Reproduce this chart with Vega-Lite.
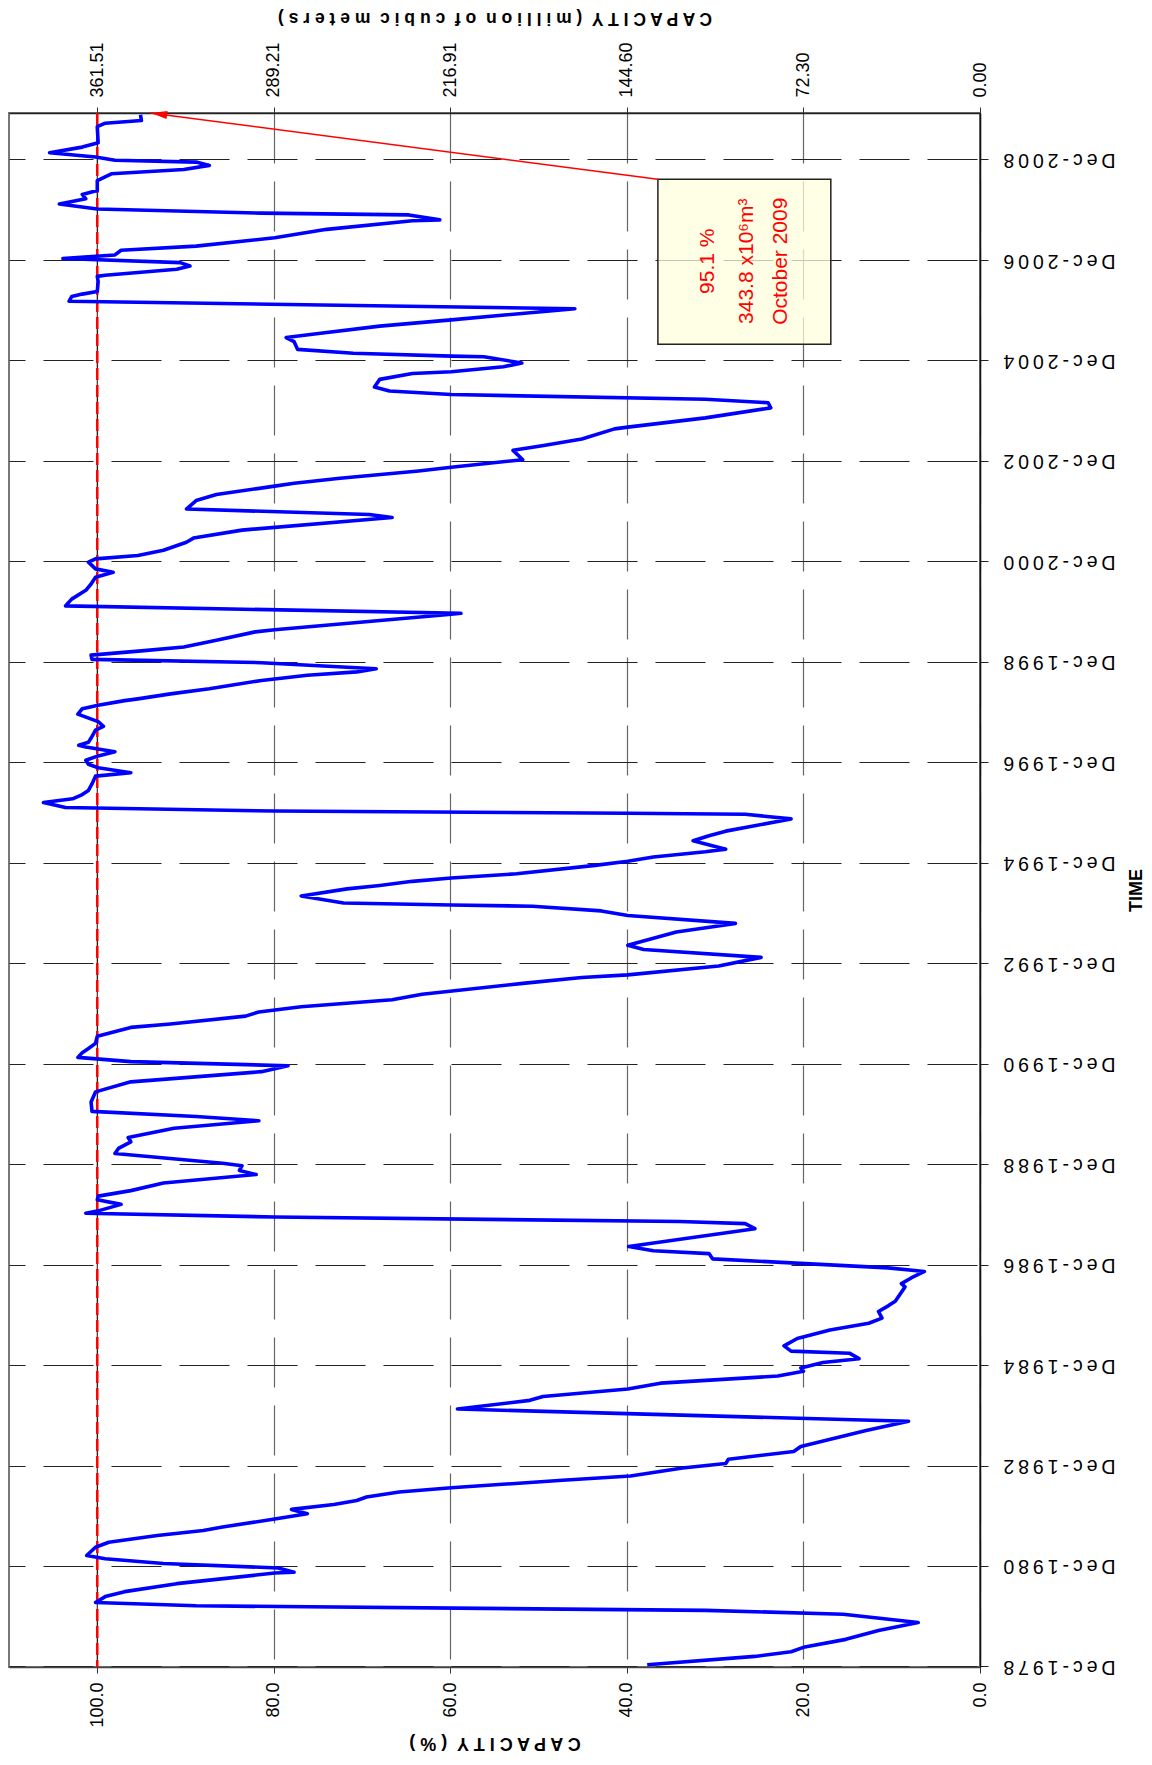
{
  "$schema": "https://vega.github.io/schema/vega-lite/v6.json",
  "width": 971,
  "height": 1554,
  "autosize": {"type": "none"},
  "padding": {"left": 9, "top": 113, "right": 172, "bottom": 98},
  "background": "white",
  "config": {
    "view": {"stroke": "#777", "strokeWidth": 2},
    "font": "Liberation Sans",
    "axis": {"labelFont": "Liberation Sans", "titleFont": "Liberation Sans", "labelColor": "black", "titleColor": "black", "labelFontSize": 18}
  },
  "datasets": {
    "series": [
      {"date": "1978-12-13", "pct": 37.7}, {"date": "1979-02-12", "pct": 25.5}, {"date": "1979-03-18", "pct": 21.4},
      {"date": "1979-04-19", "pct": 20.0}, {"date": "1979-06-16", "pct": 15.2}, {"date": "1979-08-19", "pct": 11.5},
      {"date": "1979-10-16", "pct": 7.0}, {"date": "1979-12-16", "pct": 15.5}, {"date": "1980-01-13", "pct": 31.1},
      {"date": "1980-02-15", "pct": 88.8}, {"date": "1980-03-10", "pct": 100.2}, {"date": "1980-04-22", "pct": 99.1},
      {"date": "1980-05-28", "pct": 96.9}, {"date": "1980-07-25", "pct": 91.0}, {"date": "1980-10-10", "pct": 79.9},
      {"date": "1980-10-16", "pct": 77.7}, {"date": "1980-11-16", "pct": 79.5}, {"date": "1980-12-19", "pct": 92.5},
      {"date": "1981-01-22", "pct": 99.1}, {"date": "1981-02-15", "pct": 101.2}, {"date": "1981-04-16", "pct": 100.2},
      {"date": "1981-05-22", "pct": 98.7}, {"date": "1981-07-10", "pct": 93.2}, {"date": "1981-08-16", "pct": 88.0},
      {"date": "1981-09-10", "pct": 85.8}, {"date": "1981-11-07", "pct": 79.9}, {"date": "1981-12-16", "pct": 76.2},
      {"date": "1982-01-16", "pct": 78.0}, {"date": "1982-02-21", "pct": 73.2}, {"date": "1982-03-22", "pct": 70.6},
      {"date": "1982-04-16", "pct": 69.5}, {"date": "1982-05-22", "pct": 65.8}, {"date": "1982-06-22", "pct": 59.9},
      {"date": "1982-08-16", "pct": 47.3}, {"date": "1982-09-16", "pct": 39.6}, {"date": "1982-11-13", "pct": 33.7},
      {"date": "1982-12-16", "pct": 28.8}, {"date": "1983-01-16", "pct": 28.5}, {"date": "1983-03-13", "pct": 21.1},
      {"date": "1983-04-19", "pct": 20.3}, {"date": "1983-08-12", "pct": 12.9}, {"date": "1983-10-19", "pct": 8.1},
      {"date": "1984-01-16", "pct": 59.2}, {"date": "1984-03-19", "pct": 51.0}, {"date": "1984-04-16", "pct": 49.5},
      {"date": "1984-06-10", "pct": 39.9}, {"date": "1984-07-22", "pct": 36.2}, {"date": "1984-09-12", "pct": 22.9},
      {"date": "1984-10-16", "pct": 20.0}, {"date": "1984-11-10", "pct": 20.3}, {"date": "1984-12-19", "pct": 17.8},
      {"date": "1985-01-16", "pct": 13.7}, {"date": "1985-02-25", "pct": 14.8}, {"date": "1985-03-12", "pct": 21.4},
      {"date": "1985-04-19", "pct": 22.2}, {"date": "1985-06-12", "pct": 20.7}, {"date": "1985-08-12", "pct": 17.0},
      {"date": "1985-10-01", "pct": 12.6}, {"date": "1985-11-07", "pct": 11.1}, {"date": "1985-12-25", "pct": 11.5},
      {"date": "1986-02-04", "pct": 10.4}, {"date": "1986-03-10", "pct": 9.6}, {"date": "1986-06-22", "pct": 8.5},
      {"date": "1986-07-16", "pct": 8.9}, {"date": "1986-08-26", "pct": 7.8}, {"date": "1986-10-12", "pct": 6.3},
      {"date": "1986-11-07", "pct": 10.4}, {"date": "1987-01-12", "pct": 30.3}, {"date": "1987-02-19", "pct": 30.7},
      {"date": "1987-03-12", "pct": 37.0}, {"date": "1987-04-12", "pct": 39.8}, {"date": "1987-08-19", "pct": 25.5},
      {"date": "1987-09-25", "pct": 26.6}, {"date": "1987-10-10", "pct": 34.0}, {"date": "1987-11-12", "pct": 79.9},
      {"date": "1987-12-10", "pct": 101.3}, {"date": "1987-12-25", "pct": 100.0}, {"date": "1988-02-12", "pct": 97.3},
      {"date": "1988-03-16", "pct": 100.0}, {"date": "1988-04-12", "pct": 99.9}, {"date": "1988-05-22", "pct": 96.2},
      {"date": "1988-07-16", "pct": 92.5}, {"date": "1988-09-16", "pct": 82.0}, {"date": "1988-10-16", "pct": 83.9},
      {"date": "1988-11-19", "pct": 83.6}, {"date": "1988-12-07", "pct": 85.8}, {"date": "1989-02-16", "pct": 98.0},
      {"date": "1989-03-25", "pct": 97.6}, {"date": "1989-05-12", "pct": 96.2}, {"date": "1989-06-12", "pct": 96.5},
      {"date": "1989-08-19", "pct": 91.3}, {"date": "1989-10-12", "pct": 81.7}, {"date": "1989-11-12", "pct": 88.8},
      {"date": "1989-12-19", "pct": 100.6}, {"date": "1990-02-25", "pct": 100.7}, {"date": "1990-05-10", "pct": 100.2},
      {"date": "1990-07-22", "pct": 96.2}, {"date": "1990-10-04", "pct": 81.4}, {"date": "1990-11-16", "pct": 78.4},
      {"date": "1990-12-16", "pct": 96.2}, {"date": "1991-01-16", "pct": 102.2}, {"date": "1991-02-19", "pct": 101.7},
      {"date": "1991-03-22", "pct": 101.0}, {"date": "1991-04-28", "pct": 100.2}, {"date": "1991-06-19", "pct": 100.0},
      {"date": "1991-08-22", "pct": 96.2}, {"date": "1991-09-16", "pct": 91.7}, {"date": "1991-11-12", "pct": 83.2},
      {"date": "1991-12-12", "pct": 81.7}, {"date": "1992-01-19", "pct": 76.9}, {"date": "1992-03-10", "pct": 66.6},
      {"date": "1992-04-19", "pct": 63.2}, {"date": "1992-07-07", "pct": 51.8}, {"date": "1992-08-19", "pct": 45.1},
      {"date": "1992-09-07", "pct": 39.9}, {"date": "1992-11-10", "pct": 29.6}, {"date": "1993-01-12", "pct": 24.8},
      {"date": "1993-03-10", "pct": 38.1}, {"date": "1993-04-10", "pct": 39.9}, {"date": "1993-07-16", "pct": 34.4},
      {"date": "1993-09-16", "pct": 27.7}, {"date": "1993-11-12", "pct": 39.9}, {"date": "1993-12-16", "pct": 42.9},
      {"date": "1994-01-19", "pct": 50.7}, {"date": "1994-01-28", "pct": 59.9}, {"date": "1994-02-12", "pct": 72.1},
      {"date": "1994-04-04", "pct": 76.9}, {"date": "1994-05-25", "pct": 71.7}, {"date": "1994-06-19", "pct": 68.0},
      {"date": "1994-07-19", "pct": 64.3}, {"date": "1994-08-12", "pct": 59.9}, {"date": "1994-09-12", "pct": 52.5},
      {"date": "1994-11-12", "pct": 43.6}, {"date": "1994-12-12", "pct": 39.9}, {"date": "1995-01-12", "pct": 37.0},
      {"date": "1995-02-19", "pct": 31.1}, {"date": "1995-03-10", "pct": 28.8}, {"date": "1995-05-10", "pct": 32.5},
      {"date": "1995-06-16", "pct": 30.7}, {"date": "1995-07-19", "pct": 28.8}, {"date": "1995-10-16", "pct": 21.4},
      {"date": "1995-11-19", "pct": 26.6}, {"date": "1995-11-26", "pct": 39.9}, {"date": "1995-12-12", "pct": 79.9},
      {"date": "1996-01-07", "pct": 103.6}, {"date": "1996-02-12", "pct": 106.1}, {"date": "1996-03-10", "pct": 102.8},
      {"date": "1996-04-10", "pct": 101.7}, {"date": "1996-05-10", "pct": 101.0}, {"date": "1996-06-26", "pct": 100.6},
      {"date": "1996-08-22", "pct": 100.2}, {"date": "1996-09-16", "pct": 96.2}, {"date": "1996-10-22", "pct": 99.9},
      {"date": "1996-11-16", "pct": 101.0}, {"date": "1996-12-16", "pct": 101.3}, {"date": "1997-01-16", "pct": 99.9},
      {"date": "1997-02-16", "pct": 98.0}, {"date": "1997-03-22", "pct": 101.3}, {"date": "1997-04-04", "pct": 102.1},
      {"date": "1997-04-26", "pct": 101.0}, {"date": "1997-05-26", "pct": 100.7}, {"date": "1997-07-22", "pct": 100.2},
      {"date": "1997-08-19", "pct": 99.3}, {"date": "1997-09-22", "pct": 99.9}, {"date": "1997-11-16", "pct": 102.2},
      {"date": "1997-12-25", "pct": 101.7}, {"date": "1998-01-19", "pct": 99.9}, {"date": "1998-02-22", "pct": 96.9},
      {"date": "1998-03-07", "pct": 95.4}, {"date": "1998-04-12", "pct": 91.7}, {"date": "1998-05-19", "pct": 87.3},
      {"date": "1998-07-19", "pct": 81.4}, {"date": "1998-08-25", "pct": 76.2}, {"date": "1998-09-19", "pct": 70.6},
      {"date": "1998-10-12", "pct": 68.4}, {"date": "1998-11-25", "pct": 81.4}, {"date": "1998-12-19", "pct": 100.6},
      {"date": "1999-01-19", "pct": 100.7}, {"date": "1999-02-19", "pct": 95.0}, {"date": "1999-03-19", "pct": 90.2},
      {"date": "1999-05-07", "pct": 86.5}, {"date": "1999-07-07", "pct": 82.1}, {"date": "1999-07-22", "pct": 79.9},
      {"date": "1999-11-12", "pct": 59.9}, {"date": "1999-11-19", "pct": 58.8}, {"date": "2000-01-12", "pct": 103.6},
      {"date": "2000-03-01", "pct": 102.9}, {"date": "2000-05-04", "pct": 101.3}, {"date": "2000-06-19", "pct": 100.7},
      {"date": "2000-08-07", "pct": 100.2}, {"date": "2000-09-12", "pct": 98.2}, {"date": "2000-10-07", "pct": 100.2},
      {"date": "2000-11-25", "pct": 101.0}, {"date": "2000-12-19", "pct": 100.2}, {"date": "2001-01-12", "pct": 95.4},
      {"date": "2001-02-19", "pct": 92.5}, {"date": "2001-04-19", "pct": 89.9}, {"date": "2001-05-19", "pct": 89.1},
      {"date": "2001-07-16", "pct": 83.6}, {"date": "2001-10-16", "pct": 66.6}, {"date": "2001-11-07", "pct": 69.2},
      {"date": "2001-12-16", "pct": 89.9}, {"date": "2002-02-16", "pct": 88.8}, {"date": "2002-04-01", "pct": 86.5},
      {"date": "2002-06-01", "pct": 79.9}, {"date": "2002-06-22", "pct": 77.7}, {"date": "2002-07-28", "pct": 72.5},
      {"date": "2002-09-19", "pct": 63.6}, {"date": "2002-10-16", "pct": 59.9}, {"date": "2002-12-10", "pct": 51.8},
      {"date": "2003-02-16", "pct": 52.9}, {"date": "2003-03-22", "pct": 49.6}, {"date": "2003-05-10", "pct": 45.1},
      {"date": "2003-07-22", "pct": 41.4}, {"date": "2003-08-04", "pct": 39.9}, {"date": "2003-10-10", "pct": 31.1},
      {"date": "2003-12-22", "pct": 23.7}, {"date": "2004-01-28", "pct": 24.0}, {"date": "2004-02-22", "pct": 31.1},
      {"date": "2004-03-28", "pct": 59.9}, {"date": "2004-04-22", "pct": 66.9}, {"date": "2004-05-22", "pct": 68.6},
      {"date": "2004-07-16", "pct": 68.0}, {"date": "2004-08-28", "pct": 64.3}, {"date": "2004-09-10", "pct": 59.9},
      {"date": "2004-10-16", "pct": 54.0}, {"date": "2004-11-12", "pct": 51.9}, {"date": "2004-12-28", "pct": 56.2},
      {"date": "2005-01-01", "pct": 59.9}, {"date": "2005-01-22", "pct": 71.0}, {"date": "2005-02-19", "pct": 77.3},
      {"date": "2005-04-16", "pct": 77.7}, {"date": "2005-05-16", "pct": 78.6}, {"date": "2005-06-16", "pct": 74.7},
      {"date": "2005-08-07", "pct": 68.0}, {"date": "2005-09-22", "pct": 59.9}, {"date": "2005-12-12", "pct": 45.9},
      {"date": "2006-02-04", "pct": 103.2}, {"date": "2006-03-10", "pct": 102.9}, {"date": "2006-03-28", "pct": 101.7},
      {"date": "2006-04-16", "pct": 100.0}, {"date": "2006-06-28", "pct": 99.9}, {"date": "2006-08-04", "pct": 100.0},
      {"date": "2006-08-12", "pct": 99.1}, {"date": "2006-09-25", "pct": 91.0}, {"date": "2006-10-19", "pct": 89.5},
      {"date": "2006-11-12", "pct": 90.6}, {"date": "2006-12-12", "pct": 103.9}, {"date": "2007-01-07", "pct": 98.0},
      {"date": "2007-02-10", "pct": 97.3}, {"date": "2007-03-12", "pct": 88.8}, {"date": "2007-05-12", "pct": 79.9},
      {"date": "2007-07-12", "pct": 74.0}, {"date": "2007-09-12", "pct": 64.3}, {"date": "2007-09-19", "pct": 61.2},
      {"date": "2007-10-25", "pct": 64.7}, {"date": "2007-11-07", "pct": 81.4}, {"date": "2007-12-07", "pct": 100.0},
      {"date": "2008-01-12", "pct": 104.3}, {"date": "2008-02-19", "pct": 101.3}, {"date": "2008-03-22", "pct": 101.7},
      {"date": "2008-04-19", "pct": 100.0}, {"date": "2008-07-01", "pct": 100.0}, {"date": "2008-08-19", "pct": 98.4},
      {"date": "2008-09-19", "pct": 90.2}, {"date": "2008-10-19", "pct": 87.3}, {"date": "2008-11-12", "pct": 88.8},
      {"date": "2008-11-25", "pct": 98.0}, {"date": "2008-12-19", "pct": 100.2}, {"date": "2009-01-19", "pct": 105.4},
      {"date": "2009-03-01", "pct": 101.7}, {"date": "2009-04-01", "pct": 99.9}, {"date": "2009-07-28", "pct": 100.0},
      {"date": "2009-08-22", "pct": 99.1}, {"date": "2009-09-10", "pct": 95.0}, {"date": "2009-10-22", "pct": 95.1}
    ],
    "ref": [{"pct": 100}],
    "box": [{"pct": 36.49, "pct2": 16.9, "date": "2008-07-10", "date2": "2005-03-28"}],
    "arrow": [{"pct": 36.49, "pct2": 94.0, "date": "2008-07-10", "date2": "2009-11-04"}],
    "head": [{"pct": 93.0, "date": "2009-10-28"}],
    "notes": [
      {"pct": 30.85, "date": "2006-11-22", "label": "95.1 %"},
      {"pct": 26.4, "date": "2006-11-22", "label": "343.8 x10⁶m³"},
      {"pct": 22.55, "date": "2006-11-22", "label": "October 2009"}
    ]
  },
  "resolve": {"axis": {"x": "independent"}},
  "layer": [
    {
      "data": {"name": "box"},
      "mark": {"type": "rect", "fill": "#ffffdc", "fillOpacity": 0.75, "stroke": "#222", "strokeWidth": 1.5},
      "encoding": {
        "x": {"field": "pct", "type": "quantitative", "scale": {"domain": [0, 110], "reverse": true, "nice": false, "zero": false}, "axis": null},
        "x2": {"field": "pct2"},
        "y": {"field": "date", "type": "temporal", "scale": {"type": "utc", "domain": [{"year": 1978, "month": 11, "date": 27, "utc": true}, {"year": 2009, "month": 11, "date": 4, "utc": true}], "nice": false}},
        "y2": {"field": "date2"}
      }
    },
    {
      "data": {"name": "ref"},
      "mark": {"type": "rule", "color": "#111", "strokeWidth": 1},
      "encoding": {
        "x": {
          "field": "pct", "type": "quantitative",
          "scale": {"domain": [0, 110], "reverse": true, "nice": false, "zero": false},
          "axis": {
            "orient": "top", "values": [0, 20, 40, 60, 80, 100],
            "labelExpr": "format(datum.value * 3.6151, '.2f')",
            "grid": false, "ticks": true, "tickSize": 6, "tickColor": "#333",
            "domain": true, "domainColor": "#222", "domainWidth": 1.5,
            "labelAngle": 270, "labelAlign": "left", "labelBaseline": "middle", "labelPadding": 10,
            "labelFontSize": 18, "labelLimit": 400,
            "title": "C A P A C I T Y \u00a0( m i l l i o n \u00a0o f \u00a0c u b i c \u00a0m e t e r s )",
            "titleFontSize": 17.5, "titleFontWeight": "bold", "titleAngle": 180,
            "titleAlign": "center", "titleBaseline": "middle", "titleX": 485.5, "titleY": -95.5
          }
        }
      }
    },
    {
      "data": {"name": "ref"},
      "mark": {"type": "rule", "color": "#ff0000", "strokeDash": [12, 5], "strokeWidth": 2.5},
      "encoding": {
        "x": {"field": "pct", "type": "quantitative", "scale": {"domain": [0, 110], "reverse": true, "nice": false, "zero": false}, "axis": null}
      }
    },
    {
      "data": {"name": "series"},
      "mark": {"type": "line", "color": "#0000ff", "strokeWidth": 3.6, "strokeJoin": "round"},
      "encoding": {
        "x": {
          "field": "pct", "type": "quantitative",
          "scale": {"domain": [0, 110], "reverse": true, "nice": false, "zero": false},
          "axis": {
            "orient": "bottom", "values": [0, 20, 40, 60, 80, 100], "format": ".1f",
            "grid": true, "gridColor": "#666", "gridDash": [50, 18], "gridWidth": 1.2,
            "ticks": true, "tickSize": 6, "tickColor": "#333",
            "domain": true, "domainColor": "#444", "domainWidth": 1.5,
            "labelAngle": 270, "labelAlign": "right", "labelBaseline": "middle", "labelPadding": 9,
            "labelFontSize": 18, "labelLimit": 400,
            "title": "C A P A C I T Y \u00a0( % )",
            "titleFontSize": 18, "titleFontWeight": "bold", "titleAngle": 180,
            "titleAlign": "center", "titleBaseline": "middle", "titleX": 485.5, "titleY": 75
          }
        },
        "y": {
          "field": "date", "type": "temporal",
          "scale": {"type": "utc", "domain": [{"year": 1978, "month": 11, "date": 27, "utc": true}, {"year": 2009, "month": 11, "date": 4, "utc": true}], "nice": false},
          "axis": {
            "orient": "right",
            "values": [
              {"year": 1978, "month": 12, "date": 1, "utc": true}, {"year": 1980, "month": 12, "date": 1, "utc": true},
              {"year": 1982, "month": 12, "date": 1, "utc": true}, {"year": 1984, "month": 12, "date": 1, "utc": true},
              {"year": 1986, "month": 12, "date": 1, "utc": true}, {"year": 1988, "month": 12, "date": 1, "utc": true},
              {"year": 1990, "month": 12, "date": 1, "utc": true}, {"year": 1992, "month": 12, "date": 1, "utc": true},
              {"year": 1994, "month": 12, "date": 1, "utc": true}, {"year": 1996, "month": 12, "date": 1, "utc": true},
              {"year": 1998, "month": 12, "date": 1, "utc": true}, {"year": 2000, "month": 12, "date": 1, "utc": true},
              {"year": 2002, "month": 12, "date": 1, "utc": true}, {"year": 2004, "month": 12, "date": 1, "utc": true},
              {"year": 2006, "month": 12, "date": 1, "utc": true}, {"year": 2008, "month": 12, "date": 1, "utc": true}
            ],
            "format": "%b-%Y",
            "labelExpr": "'D\u2009e\u2009c\u2009-\u2009' + slice(datum.label, 4, 5) + '\u2009' + slice(datum.label, 5, 6) + '\u2009' + slice(datum.label, 6, 7) + '\u2009' + slice(datum.label, 7, 8)",
            "grid": true, "gridColor": "#222", "gridDash": [50, 18], "gridDashOffset": 34, "gridWidth": 1.2,
            "tickSize": 8, "tickColor": "#222", "domainColor": "#111", "domainWidth": 1.5,
            "labelAngle": 180, "labelAlign": "right", "labelBaseline": "middle", "labelPadding": 15,
            "labelFontSize": 19.5,
            "title": "TIME", "titleFontSize": 18, "titleFontWeight": "bold", "titleAngle": 270,
            "titleAlign": "center", "titleBaseline": "middle", "titleX": 156, "titleY": 777
          }
        },
        "order": {"value": null}
      }
    },
    {
      "data": {"name": "arrow"},
      "mark": {"type": "rule", "color": "#ff0000", "strokeWidth": 1.5},
      "encoding": {
        "x": {"field": "pct", "type": "quantitative", "scale": {"domain": [0, 110], "reverse": true, "nice": false, "zero": false}, "axis": null},
        "x2": {"field": "pct2"},
        "y": {"field": "date", "type": "temporal", "scale": {"type": "utc", "domain": [{"year": 1978, "month": 11, "date": 27, "utc": true}, {"year": 2009, "month": 11, "date": 4, "utc": true}], "nice": false}},
        "y2": {"field": "date2"}
      }
    },
    {
      "data": {"name": "head"},
      "mark": {"type": "point", "shape": "M -1 0 L 1 -0.5 L 1 0.5 Z", "filled": true, "color": "#ff0000", "opacity": 1, "size": 260, "angle": 7.4},
      "encoding": {
        "x": {"field": "pct", "type": "quantitative", "scale": {"domain": [0, 110], "reverse": true, "nice": false, "zero": false}, "axis": null},
        "y": {"field": "date", "type": "temporal", "scale": {"type": "utc", "domain": [{"year": 1978, "month": 11, "date": 27, "utc": true}, {"year": 2009, "month": 11, "date": 4, "utc": true}], "nice": false}}
      }
    },
    {
      "data": {"name": "notes"},
      "mark": {"type": "text", "angle": 270, "color": "#ff0000", "fontSize": 21, "font": "Liberation Sans", "align": "center", "baseline": "middle"},
      "encoding": {
        "x": {"field": "pct", "type": "quantitative", "scale": {"domain": [0, 110], "reverse": true, "nice": false, "zero": false}, "axis": null},
        "y": {"field": "date", "type": "temporal", "scale": {"type": "utc", "domain": [{"year": 1978, "month": 11, "date": 27, "utc": true}, {"year": 2009, "month": 11, "date": 4, "utc": true}], "nice": false}},
        "text": {"field": "label"}
      }
    }
  ]
}
